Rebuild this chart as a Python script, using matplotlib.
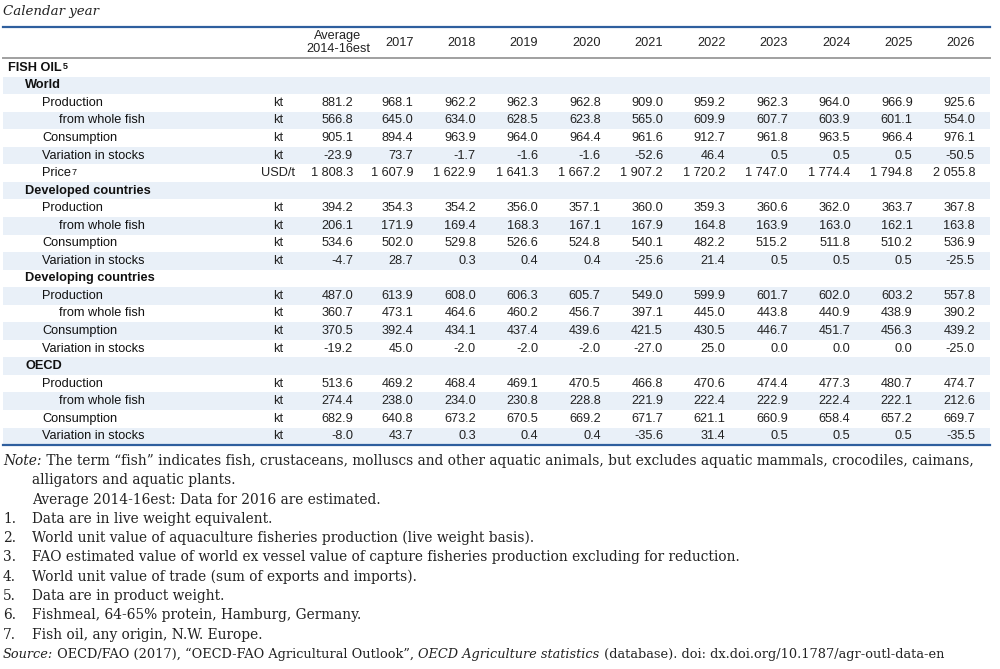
import matplotlib
matplotlib.use("Agg")
import matplotlib.pyplot as plt
from matplotlib.patches import Rectangle

# columns
col_headers = ["Average\n2014-16est", "2017", "2018", "2019", "2020", "2021",
               "2022", "2023", "2024", "2025", "2026"]

# World
world_production = [881.2, 968.1, 962.2, 962.3, 962.8, 909.0, 959.2, 962.3, 964.0, 966.9, 925.6]
world_whole_fish = [566.8, 645.0, 634.0, 628.5, 623.8, 565.0, 609.9, 607.7, 603.9, 601.1, 554.0]
world_consumption = [905.1, 894.4, 963.9, 964.0, 964.4, 961.6, 912.7, 961.8, 963.5, 966.4, 976.1]
world_stocks = [-23.9, 73.7, -1.7, -1.6, -1.6, -52.6, 46.4, 0.5, 0.5, 0.5, -50.5]
world_price = [1808.3, 1607.9, 1622.9, 1641.3, 1667.2, 1907.2, 1720.2, 1747.0, 1774.4, 1794.8, 2055.8]

# Developed countries
dev_production = [394.2, 354.3, 354.2, 356.0, 357.1, 360.0, 359.3, 360.6, 362.0, 363.7, 367.8]
dev_whole_fish = [206.1, 171.9, 169.4, 168.3, 167.1, 167.9, 164.8, 163.9, 163.0, 162.1, 163.8]
dev_consumption = [534.6, 502.0, 529.8, 526.6, 524.8, 540.1, 482.2, 515.2, 511.8, 510.2, 536.9]
dev_stocks = [-4.7, 28.7, 0.3, 0.4, 0.4, -25.6, 21.4, 0.5, 0.5, 0.5, -25.5]

# Developing countries
dvg_production = [487.0, 613.9, 608.0, 606.3, 605.7, 549.0, 599.9, 601.7, 602.0, 603.2, 557.8]
dvg_whole_fish = [360.7, 473.1, 464.6, 460.2, 456.7, 397.1, 445.0, 443.8, 440.9, 438.9, 390.2]
dvg_consumption = [370.5, 392.4, 434.1, 437.4, 439.6, 421.5, 430.5, 446.7, 451.7, 456.3, 439.2]
dvg_stocks = [-19.2, 45.0, -2.0, -2.0, -2.0, -27.0, 25.0, 0.0, 0.0, 0.0, -25.0]

# OECD
oecd_production = [513.6, 469.2, 468.4, 469.1, 470.5, 466.8, 470.6, 474.4, 477.3, 480.7, 474.7]
oecd_whole_fish = [274.4, 238.0, 234.0, 230.8, 228.8, 221.9, 222.4, 222.9, 222.4, 222.1, 212.6]
oecd_consumption = [682.9, 640.8, 673.2, 670.5, 669.2, 671.7, 621.1, 660.9, 658.4, 657.2, 669.7]
oecd_stocks = [-8.0, 43.7, 0.3, 0.4, 0.4, -35.6, 31.4, 0.5, 0.5, 0.5, -35.5]

# (label, superscript, indent level, unit, values)
rows = [
    ("FISH OIL", "5", 0, "", None),
    ("World", "", 1, "", None),
    ("Production", "", 2, "kt", world_production),
    ("from whole fish", "", 3, "kt", world_whole_fish),
    ("Consumption", "", 2, "kt", world_consumption),
    ("Variation in stocks", "", 2, "kt", world_stocks),
    ("Price", "7", 2, "USD/t", world_price),
    ("Developed countries", "", 1, "", None),
    ("Production", "", 2, "kt", dev_production),
    ("from whole fish", "", 3, "kt", dev_whole_fish),
    ("Consumption", "", 2, "kt", dev_consumption),
    ("Variation in stocks", "", 2, "kt", dev_stocks),
    ("Developing countries", "", 1, "", None),
    ("Production", "", 2, "kt", dvg_production),
    ("from whole fish", "", 3, "kt", dvg_whole_fish),
    ("Consumption", "", 2, "kt", dvg_consumption),
    ("Variation in stocks", "", 2, "kt", dvg_stocks),
    ("OECD", "", 1, "", None),
    ("Production", "", 2, "kt", oecd_production),
    ("from whole fish", "", 3, "kt", oecd_whole_fish),
    ("Consumption", "", 2, "kt", oecd_consumption),
    ("Variation in stocks", "", 2, "kt", oecd_stocks),
]

note_lines = [
    ("1.", "Data are in live weight equivalent."),
    ("2.", "World unit value of aquaculture fisheries production (live weight basis)."),
    ("3.", "FAO estimated value of world ex vessel value of capture fisheries production excluding for reduction."),
    ("4.", "World unit value of trade (sum of exports and imports)."),
    ("5.", "Data are in product weight."),
    ("6.", "Fishmeal, 64-65% protein, Hamburg, Germany."),
    ("7.", "Fish oil, any origin, N.W. Europe."),
]

TAB_FONT = ["Liberation Sans", "DejaVu Sans"]
SERIF = ["DejaVu Serif"]
BLUE = "#2f5f9e"
SHADE = "#e9f0f8"
TS = 9.2

fig = plt.figure(figsize=(10, 6.69), dpi=100)
ax = fig.add_axes([0, 0, 1, 1])
ax.set_xlim(0, 1000)
ax.set_ylim(669, 0)
ax.axis("off")


def fmt(v):
    return f"{v:,.1f}".replace(",", " ")


ax.text(3, 12, "Calendar year", fontsize=9.6, style="italic", family=SERIF,
        va="center", ha="left", color="#222")

left, right = 3, 990
top_line, head_line = 27, 58
row_h = 17.55
col_x = [353] + [413.5 + 62.4 * i for i in range(10)]
unit_x = 278
indent = [8, 25, 42, 59]

# header
ax.plot([left, right], [top_line, top_line], color=BLUE, lw=1.6)
ax.plot([left, right], [head_line, head_line], color="#a0a0a0", lw=1.4)
for x, h in zip(col_x, col_headers):
    if "\n" in h:
        ax.text(x - 15, 42.5, h, ha="center", va="center", fontsize=TS,
                family=TAB_FONT, linespacing=1.1, color="#222")
    else:
        ax.text(x, 42.5, h, ha="right", va="center", fontsize=TS,
                family=TAB_FONT, color="#222")

# body
for i, (label, sup, lev, unit, vals) in enumerate(rows):
    y0 = head_line + 1 + i * row_h
    yc = y0 + row_h / 2
    if i % 2 == 1:
        ax.add_patch(Rectangle((left, y0), right - left, row_h,
                               facecolor=SHADE, edgecolor="none", zorder=0))
    bold = vals is None
    t = ax.text(indent[lev], yc, label, ha="left", va="center", fontsize=TS,
                family=TAB_FONT, fontweight="bold" if bold else "normal",
                color="#111")
    if sup:
        ax.annotate(sup, xy=(1, 0.95), xycoords=t, xytext=(0.5, 0),
                    textcoords="offset points", ha="left", va="top",
                    fontsize=6.5, family=TAB_FONT,
                    fontweight="bold" if bold else "normal", color="#111")
    if unit:
        ax.text(unit_x, yc, unit, ha="center", va="center", fontsize=TS,
                family=TAB_FONT, color="#222")
    if vals is not None:
        for x, v in zip(col_x, vals):
            ax.text(x, yc, fmt(v), ha="right", va="center", fontsize=TS,
                    family=TAB_FONT, color="#222")

bottom = head_line + 1 + len(rows) * row_h
ax.plot([left, right], [bottom, bottom], color=BLUE, lw=1.6)

# notes
renderer = fig.canvas.get_renderer()
inv = ax.transData.inverted()


def run(x, y, parts, size=9.9):
    for txt, st in parts:
        t = ax.text(x, y, txt, ha="left", va="baseline", fontsize=size,
                    family=SERIF, style=st, color="#222")
        bb = t.get_window_extent(renderer)
        x = inv.transform((bb.x1, bb.y0))[0]
    return x


lh = 19.3
y = 465
run(3, y, [("Note:", "italic"),
           (" The term \u201cfish\u201d indicates fish, crustaceans, molluscs and other aquatic "
            "animals, but excludes aquatic mammals, crocodiles, caimans,", "normal")])
y += lh
run(32, y, [("alligators and aquatic plants.", "normal")])
y += lh
run(32, y, [("Average 2014-16est: Data for 2016 are estimated.", "normal")])
for num, txt in note_lines:
    y += lh
    run(3, y, [(num, "normal")])
    run(32, y, [(txt, "normal")])
y += lh
run(3, y, [("Source:", "italic"),
           (" OECD/FAO (2017), \u201cOECD-FAO Agricultural Outlook\u201d, ", "normal"),
           ("OECD Agriculture statistics", "italic"),
           (" (database). doi: dx.doi.org/10.1787/agr-outl-data-en", "normal")],
    size=9.3)

fig.savefig("out.png", dpi=100)
